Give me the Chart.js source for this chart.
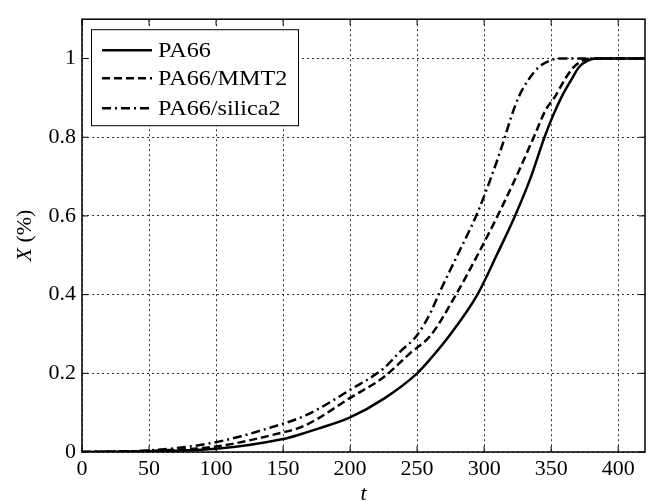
<!DOCTYPE html>
<html>
<head>
<meta charset="utf-8">
<script src="https://cdn.jsdelivr.net/npm/chart.js@4.4.1/dist/chart.umd.min.js"></script>
<style>
  html, body { margin: 0; padding: 0; background: #fff; }
  #wrap { width: 649px; height: 502px; }
</style>
</head>
<body>
<div id="wrap"><canvas id="chart"></canvas></div>
<script>
// values
const seriesNames = ['PA66', 'PA66/MMT2', 'PA66/silica2'];

const tPA66 = [0, 50, 100, 150, 163, 175, 200, 225, 250, 260, 275, 295, 310, 323, 335, 345, 352, 358, 365, 371, 377, 384, 420];
const xPA66 = [0, 0.002, 0.008, 0.033, 0.045, 0.058, 0.088, 0.135, 0.2, 0.237, 0.3, 0.4, 0.505, 0.6, 0.7, 0.8, 0.86, 0.904, 0.946, 0.979, 0.994, 1, 1];

const tMMT2 = [0, 50, 100, 150, 163, 175, 200, 225, 245, 260, 279, 295, 310, 324, 337, 346, 353, 360, 367, 376, 382, 420];
const xMMT2 = [0, 0.003, 0.014, 0.05, 0.0625, 0.083, 0.1375, 0.19, 0.252, 0.296, 0.4, 0.5, 0.6, 0.7, 0.8, 0.87, 0.904, 0.946, 0.979, 0.998, 1, 1];

const tSilica2 = [0, 50, 100, 150, 163, 175, 200, 225, 237, 250, 260, 266, 280, 294, 305, 315, 320, 326, 333, 341, 350, 356, 420];
const xSilica2 = [0, 0.004, 0.025, 0.072, 0.0875, 0.107, 0.158, 0.2125, 0.254, 0.297, 0.354, 0.4, 0.5, 0.6, 0.696, 0.795, 0.85, 0.904, 0.946, 0.979, 0.996, 1, 1];

const xTicks = [0, 50, 100, 150, 200, 250, 300, 350, 400];
const yTicks = [0, 0.2, 0.4, 0.6, 0.8, 1];

const dashes = [[], [8, 4], [9, 4, 2, 4]];
const serif = '"Liberation Serif", "Times New Roman", serif';

function pts(ts, xs) {
  return ts.map((t, i) => ({ x: t, y: xs[i] }));
}

// frame with inward ticks, axis titles and the legend box
const extras = {
  id: 'extras',
  afterDraw(chart) {
    const { ctx, chartArea: a, scales: { x, y } } = chart;
    ctx.save();
    ctx.strokeStyle = '#000';
    ctx.lineWidth = 1.5;
    ctx.strokeRect(a.left, a.top, a.right - a.left, a.bottom - a.top);

    ctx.lineWidth = 1;
    ctx.beginPath();
    xTicks.forEach(v => {
      const px = x.getPixelForValue(v);
      ctx.moveTo(px, a.bottom); ctx.lineTo(px, a.bottom - 6);
      ctx.moveTo(px, a.top); ctx.lineTo(px, a.top + 6);
    });
    yTicks.forEach(v => {
      const py = y.getPixelForValue(v);
      ctx.moveTo(a.left, py); ctx.lineTo(a.left + 6, py);
      ctx.moveTo(a.right, py); ctx.lineTo(a.right - 6, py);
    });
    ctx.stroke();

    // x title
    ctx.fillStyle = '#000';
    ctx.font = 'italic 22px ' + serif;
    ctx.textAlign = 'center';
    ctx.textBaseline = 'alphabetic';
    ctx.fillText('t', (a.left + a.right) / 2, 500);

    // y title, X italic, (%) upright
    ctx.save();
    ctx.translate(31, (a.top + a.bottom) / 2);
    ctx.rotate(-Math.PI / 2);
    ctx.textAlign = 'left';
    ctx.font = 'italic 22px ' + serif;
    const w1 = ctx.measureText('X').width;
    ctx.font = '22px ' + serif;
    const w2 = ctx.measureText(' (%)').width;
    const sx = -(w1 + w2) / 2;
    ctx.font = 'italic 22px ' + serif;
    ctx.fillText('X', sx, 0);
    ctx.font = '22px ' + serif;
    ctx.fillText(' (%)', sx + w1, 0);
    ctx.restore();

    // legend
    const lx = a.left + 9, ly = a.top + 10, lw = 207, lh = 96;
    ctx.fillStyle = '#fff';
    ctx.fillRect(lx, ly, lw, lh);
    ctx.lineWidth = 1;
    ctx.strokeStyle = '#000';
    ctx.strokeRect(lx + 0.5, ly + 0.5, lw, lh);
    const rows = [21, 49, 79];
    seriesNames.forEach((name, i) => {
      const ry = ly + rows[i];
      ctx.lineWidth = 2.5;
      ctx.setLineDash(dashes[i]);
      ctx.beginPath();
      ctx.moveTo(lx + 11, ry);
      ctx.lineTo(lx + 61, ry);
      ctx.stroke();
      ctx.setLineDash([]);
      ctx.save();
      ctx.translate(lx + 67, ry);
      ctx.scale(1.15, 1);
      ctx.fillStyle = '#000';
      ctx.font = '21px ' + serif;
      ctx.textAlign = 'left';
      ctx.textBaseline = 'middle';
      ctx.fillText(name, 0, 1);
      ctx.restore();
    });
    ctx.restore();
  }
};

const allT = [tPA66, tMMT2, tSilica2];
const allX = [xPA66, xMMT2, xSilica2];

const datasets = seriesNames.map((name, i) => ({
  label: name,
  data: pts(allT[i], allX[i]),
  borderColor: '#000',
  borderWidth: 2.5,
  borderDash: dashes[i],
  pointRadius: 0,
  fill: false,
  cubicInterpolationMode: 'monotone'
}));

const gridOpts = { color: '#333', lineWidth: 1, drawTicks: false };

new Chart(document.getElementById('chart'), {
  type: 'line',
  data: { datasets: datasets },
  options: {
    responsive: true,
    maintainAspectRatio: false,
    animation: false,
    layout: { padding: { left: 0, right: 4, top: 10, bottom: 0 } },
    plugins: { legend: { display: false }, tooltip: { enabled: false } },
    scales: {
      x: {
        type: 'linear',
        min: 0,
        max: 420,
        grid: gridOpts,
        border: { display: false, dash: [2, 3] },
        ticks: {
          stepSize: 50,
          includeBounds: false,
          padding: 4,
          color: '#000',
          font: { family: serif, size: 22 },
          maxRotation: 0
        },
        afterFit(scale) { scale.height = 50; }
      },
      y: {
        type: 'linear',
        min: 0,
        max: 1.1,
        grid: gridOpts,
        border: { display: false, dash: [2, 3] },
        ticks: {
          stepSize: 0.2,
          includeBounds: false,
          padding: 6,
          color: '#000',
          font: { family: serif, size: 22 },
          callback: v => String(+v.toFixed(1))
        },
        afterFit(scale) { scale.width = 82; }
      }
    }
  },
  plugins: [extras]
});
</script>
</body>
</html>
